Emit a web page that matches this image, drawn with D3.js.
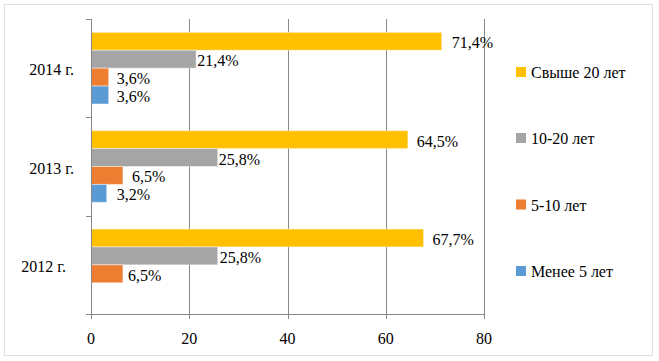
<!DOCTYPE html>
<html><head><meta charset="utf-8">
<script src="https://cdn.jsdelivr.net/npm/d3@7"></script>
</head><body style="margin:0">
<svg id="c" width="659" height="361"></svg>
<script>
const categories = ["2012 г.", "2013 г.", "2014 г."];
const seriesNames = ["Свыше 20 лет", "10-20 лет", "5-10 лет", "Менее 5 лет"];
const over20 = [67.7, 64.5, 71.4];
const y10to20 = [25.8, 25.8, 21.4];
const y5to10 = [6.5, 6.5, 3.6];
const under5 = [null, 3.2, 3.6];
const xTicks = [0, 20, 40, 60, 80];
const colors = ["#FFC000", "#A5A5A5", "#ED7D31", "#5B9BD5"];
// label horizontal nudges (layout only)
const labelDx = [[9, 9, 10], [2, 1, 1], [5, 9, 8], [0, 10, 8]];
const catDx = [-8, 0, 0];

const values = [over20, y10to20, y5to10, under5];
const svg = d3.select("#c");
function txt(sel) { return sel.attr("font-family", "Liberation Serif").attr("font-size", "16px"); }

svg.append("rect").attr("x", 4.5).attr("y", 4.5).attr("width", 648).attr("height", 351)
  .attr("fill", "none").attr("stroke", "#c0c0c0").attr("stroke-dasharray", "1,1");

const x = d3.scaleLinear().domain([0, 80]).range([91, 484]);
const y0 = d3.scaleBand().domain(categories.slice().reverse()).range([19, 314]).padding(0);
const y1 = d3.scaleBand().domain(seriesNames).range([0, y0.bandwidth()]).paddingInner(0).paddingOuter(0.745);

const grid = "#888888";
svg.append("g").selectAll("line").data(xTicks.filter(d => d > 0)).join("line")
  .attr("x1", d => Math.round(x(d)) + 0.5).attr("x2", d => Math.round(x(d)) + 0.5)
  .attr("y1", 19).attr("y2", 314).attr("stroke", grid).attr("stroke-width", 1);

const bars = [];
seriesNames.forEach((s, si) => {
  categories.forEach((c, ci) => {
    const v = values[si][ci];
    if (v != null) bars.push({s, si, c, ci, v});
  });
});
svg.append("g").selectAll("rect").data(bars).join("rect")
  .attr("x", x(0)).attr("y", d => y0(d.c) + y1(d.s))
  .attr("width", d => x(d.v) - x(0)).attr("height", y1.bandwidth())
  .attr("fill", d => colors[d.si]).attr("stroke", "rgba(255,255,255,0.45)").attr("stroke-width", 1);

txt(svg.append("g").selectAll("text").data(bars).join("text"))
  .attr("x", d => x(d.v) + labelDx[d.si][d.ci])
  .attr("y", d => y0(d.c) + y1(d.s) + y1.bandwidth() / 2 + 7)
  .text(d => d3.format(".1f")(d.v).replace(".", ",") + "%");

const yAxis = svg.append("g");
yAxis.append("line").attr("x1", 91.5).attr("x2", 91.5).attr("y1", 19).attr("y2", 314).attr("stroke", grid);
const bounds = categories.map(c => y0(c)).concat([y0.range()[1]]);
yAxis.selectAll("line.t").data(bounds).join("line").attr("class", "t")
  .attr("x1", 86).attr("x2", 91).attr("y1", d => Math.round(d) + 0.5).attr("y2", d => Math.round(d) + 0.5).attr("stroke", grid);
txt(yAxis.selectAll("text").data(categories).join("text"))
  .attr("x", (d, i) => 74 + catDx[i]).attr("y", d => y0(d) + y0.bandwidth() / 2 + 7)
  .attr("text-anchor", "end").text(d => d);

const xAxis = svg.append("g");
xAxis.append("line").attr("x1", 91).attr("x2", 484).attr("y1", 314.5).attr("y2", 314.5).attr("stroke", grid);
xAxis.selectAll("line.t").data(xTicks).join("line").attr("class", "t")
  .attr("x1", d => Math.round(x(d)) + 0.5).attr("x2", d => Math.round(x(d)) + 0.5)
  .attr("y1", 314).attr("y2", 319).attr("stroke", grid);
txt(xAxis.selectAll("text").data(xTicks).join("text"))
  .attr("x", d => x(d)).attr("y", 344).attr("text-anchor", "middle")
  .text(d => d);

const legY = [72, 138, 204.5, 271];
const leg = svg.append("g").selectAll("g").data(seriesNames).join("g")
  .attr("transform", (d, i) => `translate(516,${legY[i]})`);
leg.append("rect").attr("x", 0).attr("y", -5).attr("width", 10).attr("height", 10).attr("fill", (d, i) => colors[i]);
txt(leg.append("text")).attr("x", 15).attr("y", 6).text(d => d);
</script></body></html>
